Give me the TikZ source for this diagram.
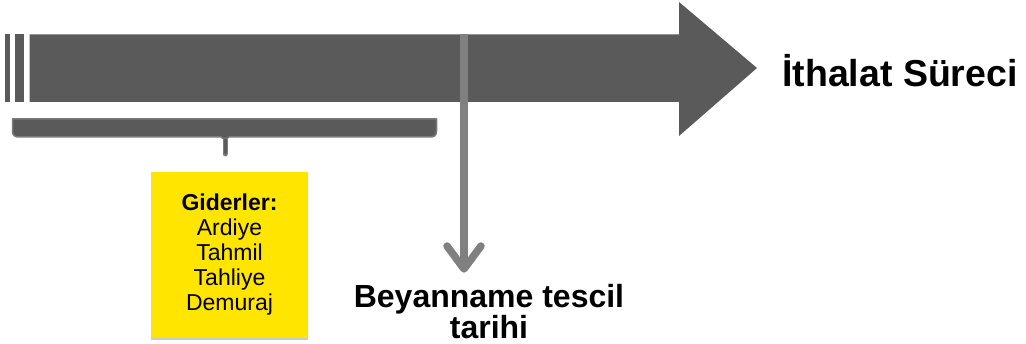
\documentclass[tikz,border=0pt]{standalone}
\usepackage{fontspec}
\setmainfont{Liberation Sans}
\usetikzlibrary{shadows}
\definecolor{shaftgray}{HTML}{5A5A5A}
\definecolor{bracerim}{HTML}{7A7A7A}
\definecolor{markgray}{HTML}{808080}
\definecolor{noteyellow}{HTML}{FFE500}
\tikzset{
  shaft/.style={fill=shaftgray, draw=none},
  bracket/.style={fill=shaftgray, draw=bracerim, line width=1.5pt, line join=round},
  marker/.style={draw=markgray, line width=7.5pt},
  notebox/.style={fill=noteyellow, draw=none, minimum width=157pt, minimum height=166pt,
    inner sep=0pt, align=center, font=\fontsize{23}{25}\selectfont,
    drop shadow={shadow xshift=0pt, shadow yshift=-2.5pt, opacity=0.35, fill=black!60}},
  caption/.style={font=\bfseries\fontsize{32}{31}\selectfont, align=center, inner sep=0pt},
  title/.style={font=\bfseries\fontsize{37.5}{40}\selectfont, inner sep=0pt, anchor=base west}
}
\begin{document}
\begin{tikzpicture}[x=1pt, y=-1pt]
\useasboundingbox (0,0) rectangle (1026,344);
\fill[white] (0,0) rectangle (1026,344);

% timeline arrow with its broken tail
\fill[shaft] (29.5,34.5) -- (679,34.5) -- (679,2) -- (757,68) -- (679,136) -- (679,102) -- (29.5,102) -- cycle;
\fill[shaft] (5,34.5) rectangle (10,102);
\fill[shaft] (14.7,34.5) rectangle (24.3,102);

% bracket under the early part of the timeline: square top, rounded bottom, small notch
\coordinate (brtip) at (225,140);
\coordinate (brend) at (225,154);
\draw[bracket] (12.5,119) -- (436.5,119) -- (436.5,131)
  .. controls (436.5,136) and (434,137) .. (429,137) -- (229,137) -- (brtip) -- (221,137)
  -- (20,137) .. controls (15,137) and (12.5,136) .. (12.5,131) -- cycle;
\draw[draw=bracerim, line width=5pt, line cap=round] (brtip) -- (brend);
\draw[draw=shaftgray, line width=3pt, line cap=round] (brtip) -- (225,153);

% expenses note
\node[notebox] (gider) at (229.5,255) {\textbf{Giderler:}\\Ardiye\\Tahmil\\Tahliye\\Demuraj};

% registration date marker
\coordinate (mtop) at (464,34.5);
\coordinate (mend) at (464,269);
\draw[marker] (mtop) -- (mend);
\draw[marker, line cap=round, line join=round] (447,246) -- (mend) -- (481,246);

\node[caption] (tescil) at (489,312) {Beyanname tescil\\tarihi};

\node[title] (surec) at (782,87) {İthalat Süreci};
\end{tikzpicture}
\end{document}
